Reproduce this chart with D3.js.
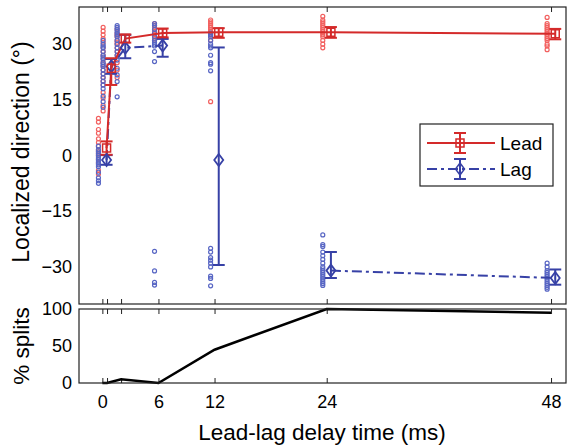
<!DOCTYPE html>
<html>
<head>
<meta charset="utf-8">
<script src="https://cdn.jsdelivr.net/npm/d3@7"></script>
<style>
body { margin: 0; background: #fff; }
text { font-family: Arial, "Liberation Sans", sans-serif; }
</style>
</head>
<body>
<div id="chart"></div>
<script>
// delay conditions (ms)
var delays = [0, 0.5, 2, 6, 12, 24, 48];
var xTickLabels = ["0", "", "", "6", "12", "24", "48"];

// mean localized direction (deg) with lower / upper error lengths
var leadMean = [2, 23.5, 31.5, 33, 33.2, 33.2, 32.8];
var leadLo = [1.8, 4.5, 1.1, 1.2, 1.5, 1.5, 1.5];
var leadHi = [1.8, 2.7, 1.1, 1.2, 1.1, 1.4, 1.3];

var lagMean = [-1.2, 24, 29, 29.6, -1.2, -31, -33];
var lagLo = [1.3, 2, 2.8, 3, 28.3, 2, 1.8];
var lagHi = [1.3, 2, 3.5, 1.8, 30.3, 5, 2.3];
var lagOnLine = [1, 1, 1, 1, 0, 1, 1];

// individual responses (deg), one list per delay
var leadPts = [
  [10, 9, 7, 6, 4.5, 3.5, 2.5, 1.5, 1, 0.5, 0, -1, -2, -4, -5],
  [34.5, 33.5, 32.5, 31.5, 30.5, 29, 28, 27, 26, 25, 24, 23, 22, 21, 20, 19, 17, 15.5, 13.5, 12],
  [34, 33, 32.5, 32, 31, 30.5, 30, 29, 28, 27, 25, 23, 21],
  [35.5, 35, 34.5, 34, 33.5, 33, 32.5, 32, 31.5, 31],
  [36.5, 36, 35.5, 35, 34.5, 34, 33.5, 33, 32.5, 32, 31, 14.5],
  [37.5, 36.5, 36, 35.5, 35, 34.5, 34, 33.5, 33, 32.5, 32, 31, 30, 29],
  [37.2, 35.5, 35, 34.5, 34, 33.5, 33, 32.5, 32, 31.5, 31, 30, 29.5, 28.5]
];
var lagPts = [
  [2.5, 1.5, 1, 0.5, 0, -0.5, -1, -1.5, -2, -2.5, -3, -4.5, -6, -6.8, -7.5],
  [31, 30, 29.5, 29, 28, 27, 26.5, 26, 25, 24.5, 24, 23, 22, 21, 20, 19, 18, 16, 14.5, 13],
  [35, 34.5, 34, 33.5, 33, 32.5, 32, 31, 30, 29, 28, 27, 25.7, 23.5, 21.7, 19.9, 15.8],
  [35.5, 35, 34, 33, 32, 31, 30.5, 30, 29.5, 28, 25.3, -25.8, -31.1, -34.2, -34.9],
  [33, 32.5, 32, 31, 30, 29.5, 29, 27, 25, 24.6, 22.8, -25, -26, -27.5, -28.2, -29, -30, -32.5, -33.1, -35.1],
  [-21.4, -24, -24.5, -26, -27, -28, -29, -30, -30.5, -31, -31.5, -32, -32.5, -33, -33.5, -34, -34.5, -35],
  [-29, -30, -31, -31.5, -32, -32.5, -33, -33.5, -34, -34.5, -35, -35.5, -36]
];

// percentage of split responses
var splits = [0, 0, 5, 0, 45, 100, 95];

var yTopTicks = [-30, -15, 0, 15, 30];
var yBotTicks = [0, 50, 100];

var leadColor = "#d42a2a", leadPtColor = "#f2605f";
var lagColor = "#3741a6", lagPtColor = "#5866c4";

var svg = d3.select("#chart").append("svg")
  .attr("width", 568)
  .attr("height", 447);

var x = d3.scaleLinear().domain([-2.5, 49.6]).range([79, 566]);
var yTop = d3.scaleLinear().domain([-40, 40]).range([304, 7]);
var yBot = d3.scaleLinear().domain([0, 100]).range([383, 309]);

var ptShift = -0.42, meanShift = 0.45;

// ---- top panel ----
var topG = svg.append("g");

// tick marks pointing inward
topG.append("g").attr("transform", "translate(0,7)")
  .call(d3.axisTop(x).tickValues(delays).tickSize(-5).tickFormat(""));
topG.append("g").attr("transform", "translate(0,304)")
  .call(d3.axisBottom(x).tickValues(delays).tickSize(-5).tickFormat(""));
topG.append("g").attr("transform", "translate(79,0)")
  .call(d3.axisLeft(yTop).tickValues(yTopTicks).tickSize(0).tickPadding(7));
topG.selectAll(".domain").remove();

function flatten(pts) {
  var out = [];
  pts.forEach(function(list, i) {
    list.forEach(function(v) { out.push({d: delays[i], v: v}); });
  });
  return out;
}

topG.selectAll("circle.leadpt").data(flatten(leadPts)).enter().append("circle")
  .attr("class", "leadpt")
  .attr("cx", function(d) { return x(d.d + ptShift); })
  .attr("cy", function(d) { return yTop(d.v); })
  .attr("r", 2)
  .attr("fill", "none")
  .attr("stroke", leadPtColor)
  .attr("stroke-width", 1.2);

topG.selectAll("circle.lagpt").data(flatten(lagPts)).enter().append("circle")
  .attr("class", "lagpt")
  .attr("cx", function(d) { return x(d.d + ptShift); })
  .attr("cy", function(d) { return yTop(d.v); })
  .attr("r", 2)
  .attr("fill", "none")
  .attr("stroke", lagPtColor)
  .attr("stroke-width", 1.2);

function series(mean, lo, hi) {
  return delays.map(function(d, i) { return {d: d, m: mean[i], lo: lo[i], hi: hi[i], i: i}; });
}
var lead = series(leadMean, leadLo, leadHi);
var lag = series(lagMean, lagLo, lagHi);

var meanLine = d3.line()
  .x(function(d) { return x(d.d + meanShift); })
  .y(function(d) { return yTop(d.m); });

topG.append("path").datum(lag)
  .attr("d", meanLine.defined(function(d) { return lagOnLine[d.i]; }))
  .attr("fill", "none")
  .attr("stroke", lagColor)
  .attr("stroke-width", 2)
  .attr("stroke-dasharray", "10,4,3,4");

topG.append("path").datum(lead)
  .attr("d", meanLine.defined(function() { return true; }))
  .attr("fill", "none")
  .attr("stroke", leadColor)
  .attr("stroke-width", 2);

function errorBars(g, data, color) {
  var bars = g.selectAll(null).data(data).enter().append("g")
    .attr("stroke", color)
    .attr("stroke-width", 2)
    .attr("fill", "none");
  bars.append("line")
    .attr("x1", function(d) { return x(d.d + meanShift); })
    .attr("x2", function(d) { return x(d.d + meanShift); })
    .attr("y1", function(d) { return yTop(d.m - d.lo); })
    .attr("y2", function(d) { return yTop(d.m + d.hi); });
  bars.append("line")
    .attr("x1", function(d) { return x(d.d + meanShift) - 6; })
    .attr("x2", function(d) { return x(d.d + meanShift) + 6; })
    .attr("y1", function(d) { return yTop(d.m - d.lo); })
    .attr("y2", function(d) { return yTop(d.m - d.lo); });
  bars.append("line")
    .attr("x1", function(d) { return x(d.d + meanShift) - 6; })
    .attr("x2", function(d) { return x(d.d + meanShift) + 6; })
    .attr("y1", function(d) { return yTop(d.m + d.hi); })
    .attr("y2", function(d) { return yTop(d.m + d.hi); });
}
errorBars(topG, lag, lagColor);
errorBars(topG, lead, leadColor);

var squarePath = "M-4,-4L4,-4L4,4L-4,4Z";
var diamondPath = "M0,-6L4.5,0L0,6L-4.5,0Z";

topG.selectAll("path.lagmk").data(lag).enter().append("path")
  .attr("class", "lagmk")
  .attr("transform", function(d) { return "translate(" + x(d.d + meanShift) + "," + yTop(d.m) + ")"; })
  .attr("d", diamondPath)
  .attr("fill", "none")
  .attr("stroke", lagColor)
  .attr("stroke-width", 1.8);

topG.selectAll("path.leadmk").data(lead).enter().append("path")
  .attr("class", "leadmk")
  .attr("transform", function(d) { return "translate(" + x(d.d + meanShift) + "," + yTop(d.m) + ")"; })
  .attr("d", squarePath)
  .attr("fill", "none")
  .attr("stroke", leadColor)
  .attr("stroke-width", 1.5);

topG.append("rect")
  .attr("x", 79).attr("y", 7).attr("width", 487).attr("height", 297)
  .attr("fill", "none").attr("stroke", "#222").attr("stroke-width", 1.2);

// legend
var legend = svg.append("g").attr("transform", "translate(420,124)");
legend.append("rect")
  .attr("width", 133).attr("height", 62)
  .attr("fill", "#fff").attr("stroke", "#222").attr("stroke-width", 1.2);

var legendItems = [
  {name: "Lead", color: leadColor, dash: null, mk: squarePath, y: 19},
  {name: "Lag", color: lagColor, dash: "10,4,3,4", mk: diamondPath, y: 45}
];
var li = legend.selectAll("g.item").data(legendItems).enter().append("g")
  .attr("class", "item")
  .attr("transform", function(d) { return "translate(0," + d.y + ")"; });
li.append("line")
  .attr("x1", 7).attr("x2", 75)
  .attr("stroke", function(d) { return d.color; })
  .attr("stroke-width", 2)
  .attr("stroke-dasharray", function(d) { return d.dash; });
li.append("line")
  .attr("x1", 40).attr("x2", 40).attr("y1", -10).attr("y2", 10)
  .attr("stroke", function(d) { return d.color; }).attr("stroke-width", 2);
li.append("line")
  .attr("x1", 34).attr("x2", 46).attr("y1", -10).attr("y2", -10)
  .attr("stroke", function(d) { return d.color; }).attr("stroke-width", 2);
li.append("line")
  .attr("x1", 34).attr("x2", 46).attr("y1", 10).attr("y2", 10)
  .attr("stroke", function(d) { return d.color; }).attr("stroke-width", 2);
li.append("path")
  .attr("transform", "translate(40,0)")
  .attr("d", function(d) { return d.mk; })
  .attr("fill", "none")
  .attr("stroke", function(d) { return d.color; })
  .attr("stroke-width", 1.5);
li.append("text")
  .attr("x", 80).attr("y", 7)
  .attr("font-size", 19)
  .text(function(d) { return d.name; });

// ---- bottom panel ----
var botG = svg.append("g");
botG.append("g").attr("transform", "translate(0,309)")
  .call(d3.axisTop(x).tickValues(delays).tickSize(-5).tickFormat(""));
botG.append("g").attr("transform", "translate(0,383)")
  .call(d3.axisBottom(x).tickValues(delays).tickSize(-5).tickPadding(12)
    .tickFormat(function(d, i) { return xTickLabels[i]; }));
botG.append("g").attr("transform", "translate(79,0)")
  .call(d3.axisLeft(yBot).tickValues(yBotTicks).tickSize(0).tickPadding(7));
botG.selectAll(".domain").remove();

botG.append("path").datum(splits)
  .attr("d", d3.line()
    .x(function(d, i) { return x(delays[i]); })
    .y(function(d) { return yBot(d); }))
  .attr("fill", "none")
  .attr("stroke", "#000")
  .attr("stroke-width", 2.5);

botG.append("rect")
  .attr("x", 79).attr("y", 309).attr("width", 487).attr("height", 74)
  .attr("fill", "none").attr("stroke", "#222").attr("stroke-width", 1.2);

svg.selectAll(".tick text").attr("font-size", 18).attr("fill", "#000");
svg.selectAll(".tick line").attr("stroke", "#222");

// axis titles
svg.append("text")
  .attr("x", 322).attr("y", 440)
  .attr("text-anchor", "middle")
  .attr("font-size", 22.5)
  .text("Lead-lag delay time (ms)");
svg.append("text")
  .attr("transform", "translate(29,152) rotate(-90)")
  .attr("text-anchor", "middle")
  .attr("font-size", 23)
  .text("Localized direction (°)");
svg.append("text")
  .attr("transform", "translate(29,346) rotate(-90)")
  .attr("text-anchor", "middle")
  .attr("font-size", 22.5)
  .text("% splits");
</script>
</body>
</html>
